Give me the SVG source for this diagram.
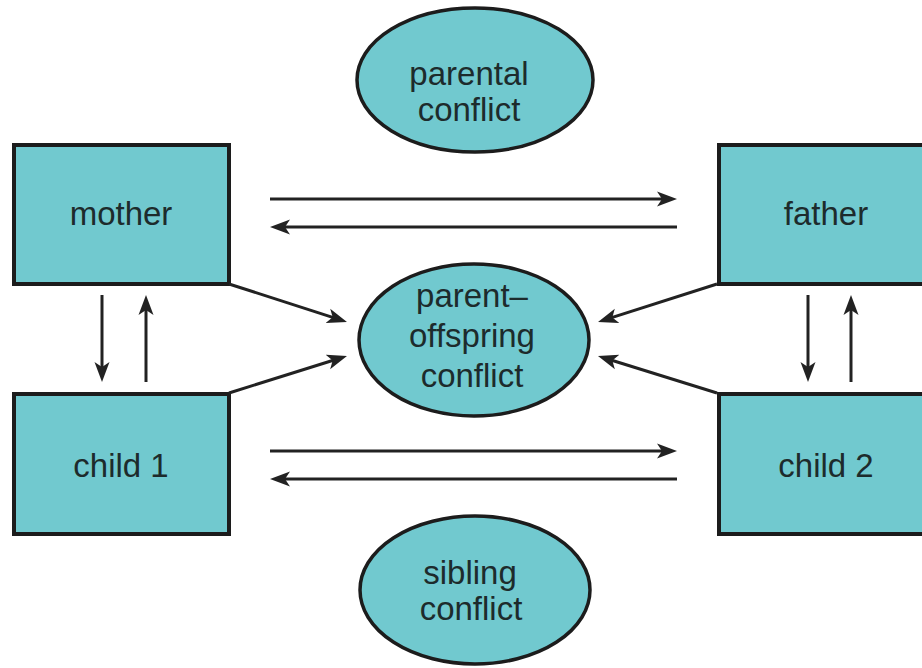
<svg xmlns="http://www.w3.org/2000/svg" width="922" height="668" viewBox="0 0 922 668">
  <style>
    .box { fill: #71c9cf; stroke: #1c1c1c; stroke-width: 4; }
    .ell { fill: #71c9cf; stroke: #1c1c1c; stroke-width: 3.5; }
    .lbl { font-family: "Liberation Sans", Arial, sans-serif; font-size: 33px; fill: #1d2b2c; text-anchor: middle; }
    .conn { stroke: #222; stroke-width: 3; fill: none; marker-end: url(#arr); }
  </style>
  <defs>
    <marker id="arr" markerUnits="userSpaceOnUse" markerWidth="22" markerHeight="18" refX="9" refY="8" orient="auto">
      <path d="M0,0.5 L20,8 L0,15.5 L5,8 Z" fill="#222"/>
    </marker>
  </defs>
  <rect width="922" height="668" fill="#ffffff"/>

  <g id="parental-conflict">
    <ellipse class="ell" cx="475" cy="80" rx="118" ry="72"/>
    <text class="lbl" x="469" y="85">parental</text>
    <text class="lbl" x="469" y="121">conflict</text>
  </g>

  <g id="parent-offspring-conflict">
    <ellipse class="ell" cx="474" cy="340" rx="115" ry="76"/>
    <text class="lbl" x="472" y="307">parent–</text>
    <text class="lbl" x="472" y="347">offspring</text>
    <text class="lbl" x="472" y="387">conflict</text>
  </g>

  <g id="sibling-conflict">
    <ellipse class="ell" cx="475" cy="590" rx="115" ry="74"/>
    <text class="lbl" x="470" y="584">sibling</text>
    <text class="lbl" x="471" y="620">conflict</text>
  </g>

  <g id="mother">
    <rect class="box" x="14" y="145" width="215" height="139"/>
    <text class="lbl" x="121" y="225">mother</text>
  </g>

  <g id="father">
    <rect class="box" x="719" y="145" width="220" height="139"/>
    <text class="lbl" x="826" y="225">father</text>
  </g>

  <g id="child1">
    <rect class="box" x="14" y="394" width="215" height="140"/>
    <text class="lbl" x="121" y="477">child 1</text>
  </g>

  <g id="child2">
    <rect class="box" x="719" y="394" width="220" height="140"/>
    <text class="lbl" x="826" y="477">child 2</text>
  </g>

  <g id="connectors">
    <line class="conn" x1="270" y1="199" x2="666" y2="199"/>
    <line class="conn" x1="677" y1="227" x2="281" y2="227"/>
    <line class="conn" x1="270" y1="451" x2="666" y2="451"/>
    <line class="conn" x1="677" y1="479" x2="281" y2="479"/>

    <line class="conn" x1="102" y1="295" x2="102" y2="371"/>
    <line class="conn" x1="146" y1="382" x2="146" y2="306"/>
    <line class="conn" x1="808" y1="295" x2="808" y2="371"/>
    <line class="conn" x1="851" y1="382" x2="851" y2="306"/>

    <line class="conn" x1="229" y1="284" x2="336.5" y2="318.6"/>
    <line class="conn" x1="229" y1="393" x2="336.5" y2="359.3"/>
    <line class="conn" x1="717" y1="284" x2="608.5" y2="318.6"/>
    <line class="conn" x1="717" y1="393" x2="608.5" y2="359.3"/>
  </g>
</svg>
